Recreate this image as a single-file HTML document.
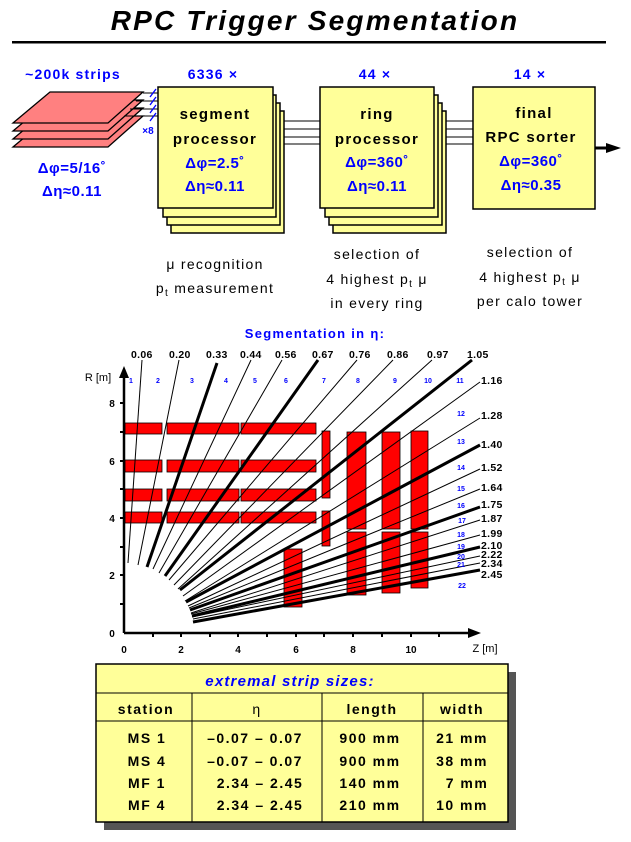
<!DOCTYPE html>
<html><head><meta charset="utf-8"><style>
body{margin:0;background:#fff;width:631px;height:842px;overflow:hidden}
svg{display:block}
text{font-family:"Liberation Sans",sans-serif;font-weight:bold}
text.n,.n text{font-weight:normal}
</style></head><body>
<svg width="631" height="842" viewBox="0 0 631 842">
<text x="315" y="30" text-anchor="middle" font-size="28" font-style="italic" letter-spacing="2.2">RPC Trigger Segmentation</text>
<rect x="12" y="41" width="594" height="2.5" fill="#000"/>
<g fill="#0000ff" font-size="14" text-anchor="middle" letter-spacing="1.2">
<text x="73" y="79">~200k strips</text>
<text x="213" y="79">6336 ×</text>
<text x="375" y="79">44 ×</text>
<text x="530" y="79">14 ×</text>
<text x="72" y="173" font-size="15" letter-spacing="0.5">Δφ=5/16˚</text>
<text x="72" y="196" font-size="15" letter-spacing="0.5">Δη≈0.11</text>
<text x="148" y="134" font-size="10" letter-spacing="0">×8</text>
</g>
<g fill="#ff8080" stroke="#000" stroke-width="1.3">
<polygon points="50,116 143,116 108,147 13,147"/>
<polygon points="50,108 143,108 108,139 13,139"/>
<polygon points="50,100 143,100 108,131 13,131"/>
<polygon points="50,92 143,92 108,123 13,123"/>
</g>
<g stroke="#000" stroke-width="1"><line x1="143" y1="93" x2="158" y2="93"/><line x1="136" y1="101" x2="158" y2="101"/><line x1="130" y1="109" x2="158" y2="109"/><line x1="124" y1="116" x2="158" y2="116"/></g>
<g stroke="#0000ff" stroke-width="1.3"><line x1="150" y1="97" x2="156" y2="89"/><line x1="150" y1="105" x2="156" y2="97"/><line x1="150" y1="113" x2="156" y2="105"/><line x1="150" y1="121" x2="156" y2="113"/></g>
<g fill="#ffff99" stroke="#000" stroke-width="1.5">
<rect x="171" y="111" width="113" height="122"/><rect x="167" y="103" width="113" height="122"/><rect x="163" y="95" width="113" height="122"/><rect x="158" y="87" width="115" height="121"/>
<rect x="333" y="111" width="113" height="122"/><rect x="329" y="103" width="113" height="122"/><rect x="325" y="95" width="113" height="122"/><rect x="320" y="87" width="114" height="121"/>
<rect x="473" y="87" width="122" height="122"/>
</g>
<g stroke="#000" stroke-width="1"><line x1="284" y1="121" x2="320" y2="121"/><line x1="284" y1="129" x2="320" y2="129"/><line x1="284" y1="137" x2="320" y2="137"/><line x1="284" y1="144" x2="320" y2="144"/>
<line x1="446" y1="121" x2="473" y2="121"/><line x1="446" y1="129" x2="473" y2="129"/><line x1="446" y1="137" x2="473" y2="137"/><line x1="446" y1="144" x2="473" y2="144"/></g>
<line x1="595" y1="148" x2="608" y2="148" stroke="#000" stroke-width="3"/><polygon points="606,143 621,148 606,153" fill="#000"/>
<g font-size="15" text-anchor="middle" letter-spacing="1.3">
<text x="215" y="119">segment</text><text x="215" y="144">processor</text>
<text x="377" y="119">ring</text><text x="377" y="144">processor</text>
<text x="534" y="118">final</text><text x="531" y="142">RPC sorter</text>
</g>
<g font-size="15" text-anchor="middle" fill="#0000ff" letter-spacing="0.5">
<text x="215" y="168">Δφ=2.5˚</text><text x="215" y="191">Δη≈0.11</text>
<text x="377" y="167">Δφ=360˚</text><text x="377" y="191">Δη≈0.11</text>
<text x="531" y="166">Δφ=360˚</text><text x="531" y="190">Δη≈0.35</text>
</g>
<g class="n" font-size="14" text-anchor="middle" letter-spacing="1.3">
<text x="215" y="269">μ recognition</text>
<text x="215" y="293">p<tspan font-size="10" dy="3">t</tspan><tspan dy="-3"> measurement</tspan></text>
<text x="377" y="259">selection of</text>
<text x="377" y="284">4 highest p<tspan font-size="10" dy="3">t</tspan><tspan dy="-3"> μ</tspan></text>
<text x="377" y="308">in every ring</text>
<text x="530" y="257">selection of</text>
<text x="530" y="282">4 highest p<tspan font-size="10" dy="3">t</tspan><tspan dy="-3"> μ</tspan></text>
<text x="530" y="306">per calo tower</text>
</g>
<text x="315" y="338" text-anchor="middle" font-size="13" fill="#0000ff" letter-spacing="1.3">Segmentation in η:</text>
<g fill="#ff0000" stroke="#000" stroke-width="0.8">
<rect x="125" y="423" width="37" height="11"/><rect x="167" y="423" width="72" height="11"/><rect x="241" y="423" width="75" height="11"/>
<rect x="125" y="460" width="37" height="12"/><rect x="167" y="460" width="72" height="12"/><rect x="241" y="460" width="75" height="12"/>
<rect x="125" y="489" width="37" height="12"/><rect x="167" y="489" width="72" height="12"/><rect x="241" y="489" width="75" height="12"/>
<rect x="125" y="512" width="37" height="11"/><rect x="167" y="512" width="72" height="11"/><rect x="241" y="512" width="75" height="11"/>
<rect x="284" y="549" width="18" height="58"/>
<rect x="322" y="431" width="8" height="67"/><rect x="322" y="511" width="8" height="35"/>
<rect x="347" y="432" width="19" height="97"/><rect x="347" y="532" width="19" height="63"/>
<rect x="382" y="432" width="18" height="97"/><rect x="382" y="532" width="18" height="61"/>
<rect x="411" y="431" width="17" height="98"/><rect x="411" y="532" width="17" height="56"/>
</g>
<g stroke="#000" stroke-width="1">
<line x1="128" y1="563" x2="142" y2="360"/>
<line x1="138" y1="565" x2="179" y2="360"/>
<line x1="147" y1="567" x2="217" y2="363" stroke-width="3"/>
<line x1="153" y1="569" x2="251" y2="360"/>
<line x1="159" y1="573" x2="282" y2="360"/>
<line x1="165" y1="576" x2="318" y2="360" stroke-width="3"/>
<line x1="169" y1="580" x2="357" y2="360"/>
<line x1="174" y1="585" x2="393" y2="360"/>
<line x1="178" y1="589" x2="432" y2="360"/>
<line x1="180" y1="590" x2="472" y2="360" stroke-width="3"/>
<line x1="183" y1="596" x2="480" y2="382"/>
<line x1="185" y1="601" x2="480" y2="418"/>
<line x1="186" y1="602" x2="480" y2="445" stroke-width="3"/>
<line x1="188" y1="606" x2="480" y2="469"/>
<line x1="189" y1="608" x2="480" y2="489"/>
<line x1="190" y1="610" x2="480" y2="507" stroke-width="3"/>
<line x1="191" y1="613" x2="480" y2="520"/>
<line x1="191" y1="614" x2="480" y2="535"/>
<line x1="192" y1="616" x2="480" y2="547" stroke-width="3"/>
<line x1="192" y1="617" x2="480" y2="556"/>
<line x1="193" y1="619" x2="480" y2="563"/>
<line x1="193" y1="622" x2="480" y2="570" stroke-width="3"/>
</g>
<g stroke="#000" stroke-width="2.5"><line x1="124" y1="633" x2="124" y2="376"/><line x1="124" y1="633" x2="470" y2="633"/></g>
<polygon points="119,378 124,366 129,378" fill="#000"/><polygon points="468,628 481,633 468,638" fill="#000"/>
<g stroke="#000" stroke-width="2">
<line x1="120" y1="604" x2="124" y2="604"/><line x1="120" y1="575" x2="124" y2="575"/><line x1="120" y1="547" x2="124" y2="547"/><line x1="120" y1="518" x2="124" y2="518"/><line x1="120" y1="489" x2="124" y2="489"/><line x1="120" y1="461" x2="124" y2="461"/><line x1="120" y1="432" x2="124" y2="432"/><line x1="120" y1="403" x2="124" y2="403"/>
<line x1="153" y1="633" x2="153" y2="637"/><line x1="181" y1="633" x2="181" y2="637"/><line x1="210" y1="633" x2="210" y2="637"/><line x1="238" y1="633" x2="238" y2="637"/><line x1="267" y1="633" x2="267" y2="637"/><line x1="296" y1="633" x2="296" y2="637"/><line x1="324" y1="633" x2="324" y2="637"/><line x1="353" y1="633" x2="353" y2="637"/><line x1="382" y1="633" x2="382" y2="637"/><line x1="411" y1="633" x2="411" y2="637"/><line x1="439" y1="633" x2="439" y2="637"/>
</g>
<g font-size="10" text-anchor="middle">
<text x="112" y="637">0</text><text x="112" y="579">2</text><text x="112" y="522">4</text><text x="112" y="465">6</text><text x="112" y="407">8</text>
<text x="124" y="653">0</text><text x="181" y="653">2</text><text x="238" y="653">4</text><text x="296" y="653">6</text><text x="353" y="653">8</text><text x="411" y="653">10</text>
<text x="98" y="381" class="n" font-size="11">R [m]</text><text x="485" y="652" class="n" font-size="11">Z [m]</text>
</g>
<g font-size="10.5" letter-spacing="0.3">
<text x="131" y="358">0.06</text><text x="169" y="358">0.20</text><text x="206" y="358">0.33</text><text x="240" y="358">0.44</text><text x="275" y="358">0.56</text><text x="312" y="358">0.67</text><text x="349" y="358">0.76</text><text x="387" y="358">0.86</text><text x="427" y="358">0.97</text><text x="467" y="358">1.05</text>
<text x="481" y="384">1.16</text><text x="481" y="419">1.28</text><text x="481" y="448">1.40</text><text x="481" y="471">1.52</text><text x="481" y="491">1.64</text><text x="481" y="508">1.75</text><text x="481" y="522">1.87</text><text x="481" y="537">1.99</text><text x="481" y="549">2.10</text><text x="481" y="558">2.22</text><text x="481" y="567">2.34</text><text x="481" y="578">2.45</text>
</g>
<g font-size="7" fill="#0000ff" text-anchor="middle">
<text x="131" y="383">1</text><text x="158" y="383">2</text><text x="192" y="383">3</text><text x="226" y="383">4</text><text x="255" y="383">5</text><text x="286" y="383">6</text><text x="324" y="383">7</text><text x="358" y="383">8</text><text x="395" y="383">9</text><text x="428" y="383">10</text><text x="460" y="383">11</text>
<text x="461" y="416">12</text><text x="461" y="444">13</text><text x="461" y="470">14</text><text x="461" y="491">15</text><text x="461" y="508">16</text><text x="462" y="523">17</text><text x="461" y="537">18</text><text x="461" y="549">19</text><text x="461" y="559">20</text><text x="461" y="567">21</text><text x="462" y="588">22</text>
</g>
<rect x="104" y="672" width="412" height="158" fill="#555"/>
<rect x="96" y="664" width="412" height="158" fill="#ffff99" stroke="#000" stroke-width="1.5"/>
<g stroke="#000" stroke-width="1"><line x1="96" y1="693" x2="508" y2="693"/><line x1="96" y1="721" x2="508" y2="721"/><line x1="192" y1="693" x2="192" y2="822"/><line x1="322" y1="693" x2="322" y2="822"/><line x1="423" y1="693" x2="423" y2="822"/></g>
<text x="290" y="686" text-anchor="middle" font-size="15" font-style="italic" fill="#0000ff" letter-spacing="1.2">extremal strip sizes:</text>
<g font-size="14" text-anchor="middle" letter-spacing="1.5">
<text x="146" y="714">station</text><text x="257" y="714" class="n">η</text><text x="372" y="714">length</text><text x="462" y="714">width</text>
<text x="147" y="743">MS 1</text><text x="147" y="766">MS 4</text><text x="147" y="788">MF 1</text><text x="147" y="810">MF 4</text>
<text x="255" y="743">–0.07 – 0.07</text><text x="255" y="766">–0.07 – 0.07</text><text x="260" y="788">2.34 – 2.45</text><text x="260" y="810">2.34 – 2.45</text>
<text x="370" y="743">900 mm</text><text x="370" y="766">900 mm</text><text x="370" y="788">140 mm</text><text x="370" y="810">210 mm</text>
<text x="462" y="743">21 mm</text><text x="462" y="766">38 mm</text><text x="467" y="788">7 mm</text><text x="462" y="810">10 mm</text>
</g>
</svg>
</body></html>
